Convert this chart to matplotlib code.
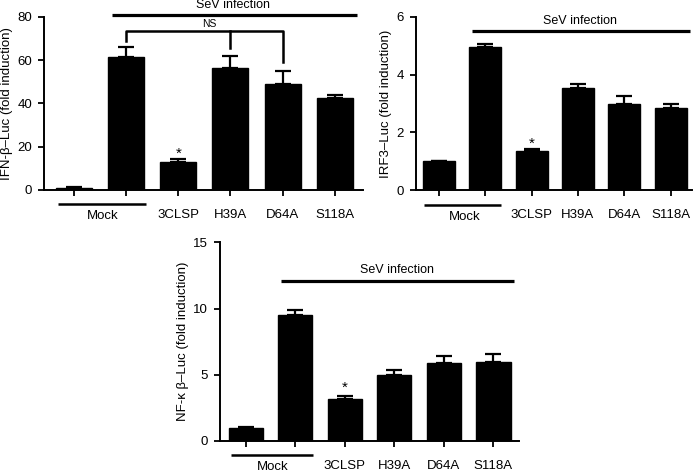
import matplotlib.pyplot as plt
from matplotlib.transforms import blended_transform_factory, ScaledTranslation

plt.rcParams['font.family'] = ['Liberation Sans', 'DejaVu Sans']

# Datos
grupos = ['Mock', 'SeV', '3CLSP', 'H39A', 'D64A', 'S118A']
etiquetas_x = ['', '', '3CLSP', 'H39A', 'D64A', 'S118A']

ifn_media = [1.0, 61.2, 13.1, 56.5, 49.0, 42.6]
ifn_error = [0.2, 5.0, 1.1, 5.4, 5.8, 1.1]

irf3_media = [1.0, 4.96, 1.37, 3.55, 3.0, 2.86]
irf3_error = [0.02, 0.11, 0.06, 0.14, 0.26, 0.14]

nfkb_media = [1.0, 9.54, 3.15, 5.0, 5.91, 5.99]
nfkb_error = [0.03, 0.35, 0.25, 0.34, 0.49, 0.6]


def panel(ax, medias, errores, ylim, yticks, ylabel, sev_y, sev_txt_y, ast_y,
          xlim, mock_x):
    x = list(range(len(medias)))
    ax.bar(x, medias, width=0.69, color='black', edgecolor='black')
    ax.errorbar(x, medias, yerr=[[0] * len(errores), errores], fmt='none',
                ecolor='black', elinewidth=1.6, capsize=5.5, capthick=1.6)
    ax.set_xlim(*xlim)
    ax.set_ylim(*ylim)
    ax.set_yticks(yticks)
    ax.set_xticks(x)
    ax.set_xticklabels(etiquetas_x, fontsize=9.5)
    ax.set_ylabel(ylabel, fontsize=9.5, labelpad=3)
    for lado in ['top', 'right']:
        ax.spines[lado].set_visible(False)
    for lado in ['left', 'bottom']:
        ax.spines[lado].set_linewidth(1.4)
    ax.tick_params(axis='both', direction='out', length=4.5, width=1.3,
                   labelsize=9.5, pad=4)
    ax.tick_params(axis='x', pad=9)

    # Linea de infeccion SeV
    ax.plot([0.72, 5.42], [sev_y, sev_y], color='black', lw=2.3,
            clip_on=False, solid_capstyle='butt')
    ax.text(3.05, sev_txt_y, 'SeV infection', ha='center', va='center',
            fontsize=9)

    # Linea Mock y texto, desplazados en pixeles bajo el eje
    mezcla = blended_transform_factory(ax.transData, ax.transAxes)
    linea_tr = mezcla + ScaledTranslation(0, -14.5 / 100, fig.dpi_scale_trans)
    texto_tr = mezcla + ScaledTranslation(0, -26.5 / 100, fig.dpi_scale_trans)
    ax.plot(mock_x, [0, 0], color='black', lw=1.8, transform=linea_tr,
            clip_on=False, solid_capstyle='butt')
    ax.text(0.55, 0, 'Mock', ha='center', va='center', fontsize=9.5,
            transform=texto_tr)

    # Asterisco
    ax.text(2, ast_y, '*', ha='center', va='center', fontsize=11)


fig = plt.figure(figsize=(6.96, 4.72), dpi=100)

ax1 = fig.add_axes([0.0632, 0.5975, 0.458, 0.367])
panel(ax1, ifn_media, ifn_error, (0, 80), [0, 20, 40, 60, 80],
      'IFN-β–Luc (fold induction)', 80.8, 85.4, 16.8,
      (-0.58, 5.54), (-0.31, 1.37))

# Corchete NS
ax1.plot([1, 1, 4, 4], [69, 73.5, 73.5, 59], color='black', lw=1.8,
         clip_on=False)
ax1.plot([3, 3], [73.5, 65.5], color='black', lw=1.8, clip_on=False)
ax1.text(2.6, 76.8, 'NS', ha='center', va='center', fontsize=7.5)

ax2 = fig.add_axes([0.597, 0.5968, 0.397, 0.3678])
panel(ax2, irf3_media, irf3_error, (0, 6), [0, 2, 4, 6],
      'IRF3–Luc (fold induction)', 5.49, 5.85, 1.62,
      (-0.51, 5.46), (-0.33, 1.34))

ax3 = fig.add_axes([0.316, 0.0657, 0.430, 0.421])
panel(ax3, nfkb_media, nfkb_error, (0, 15), [0, 5, 10, 15],
      'NF-κ β–Luc (fold induction)', 12.1, 12.9, 4.05,
      (-0.52, 5.52), (-0.30, 1.35))

fig.savefig('out.png', dpi=100)
